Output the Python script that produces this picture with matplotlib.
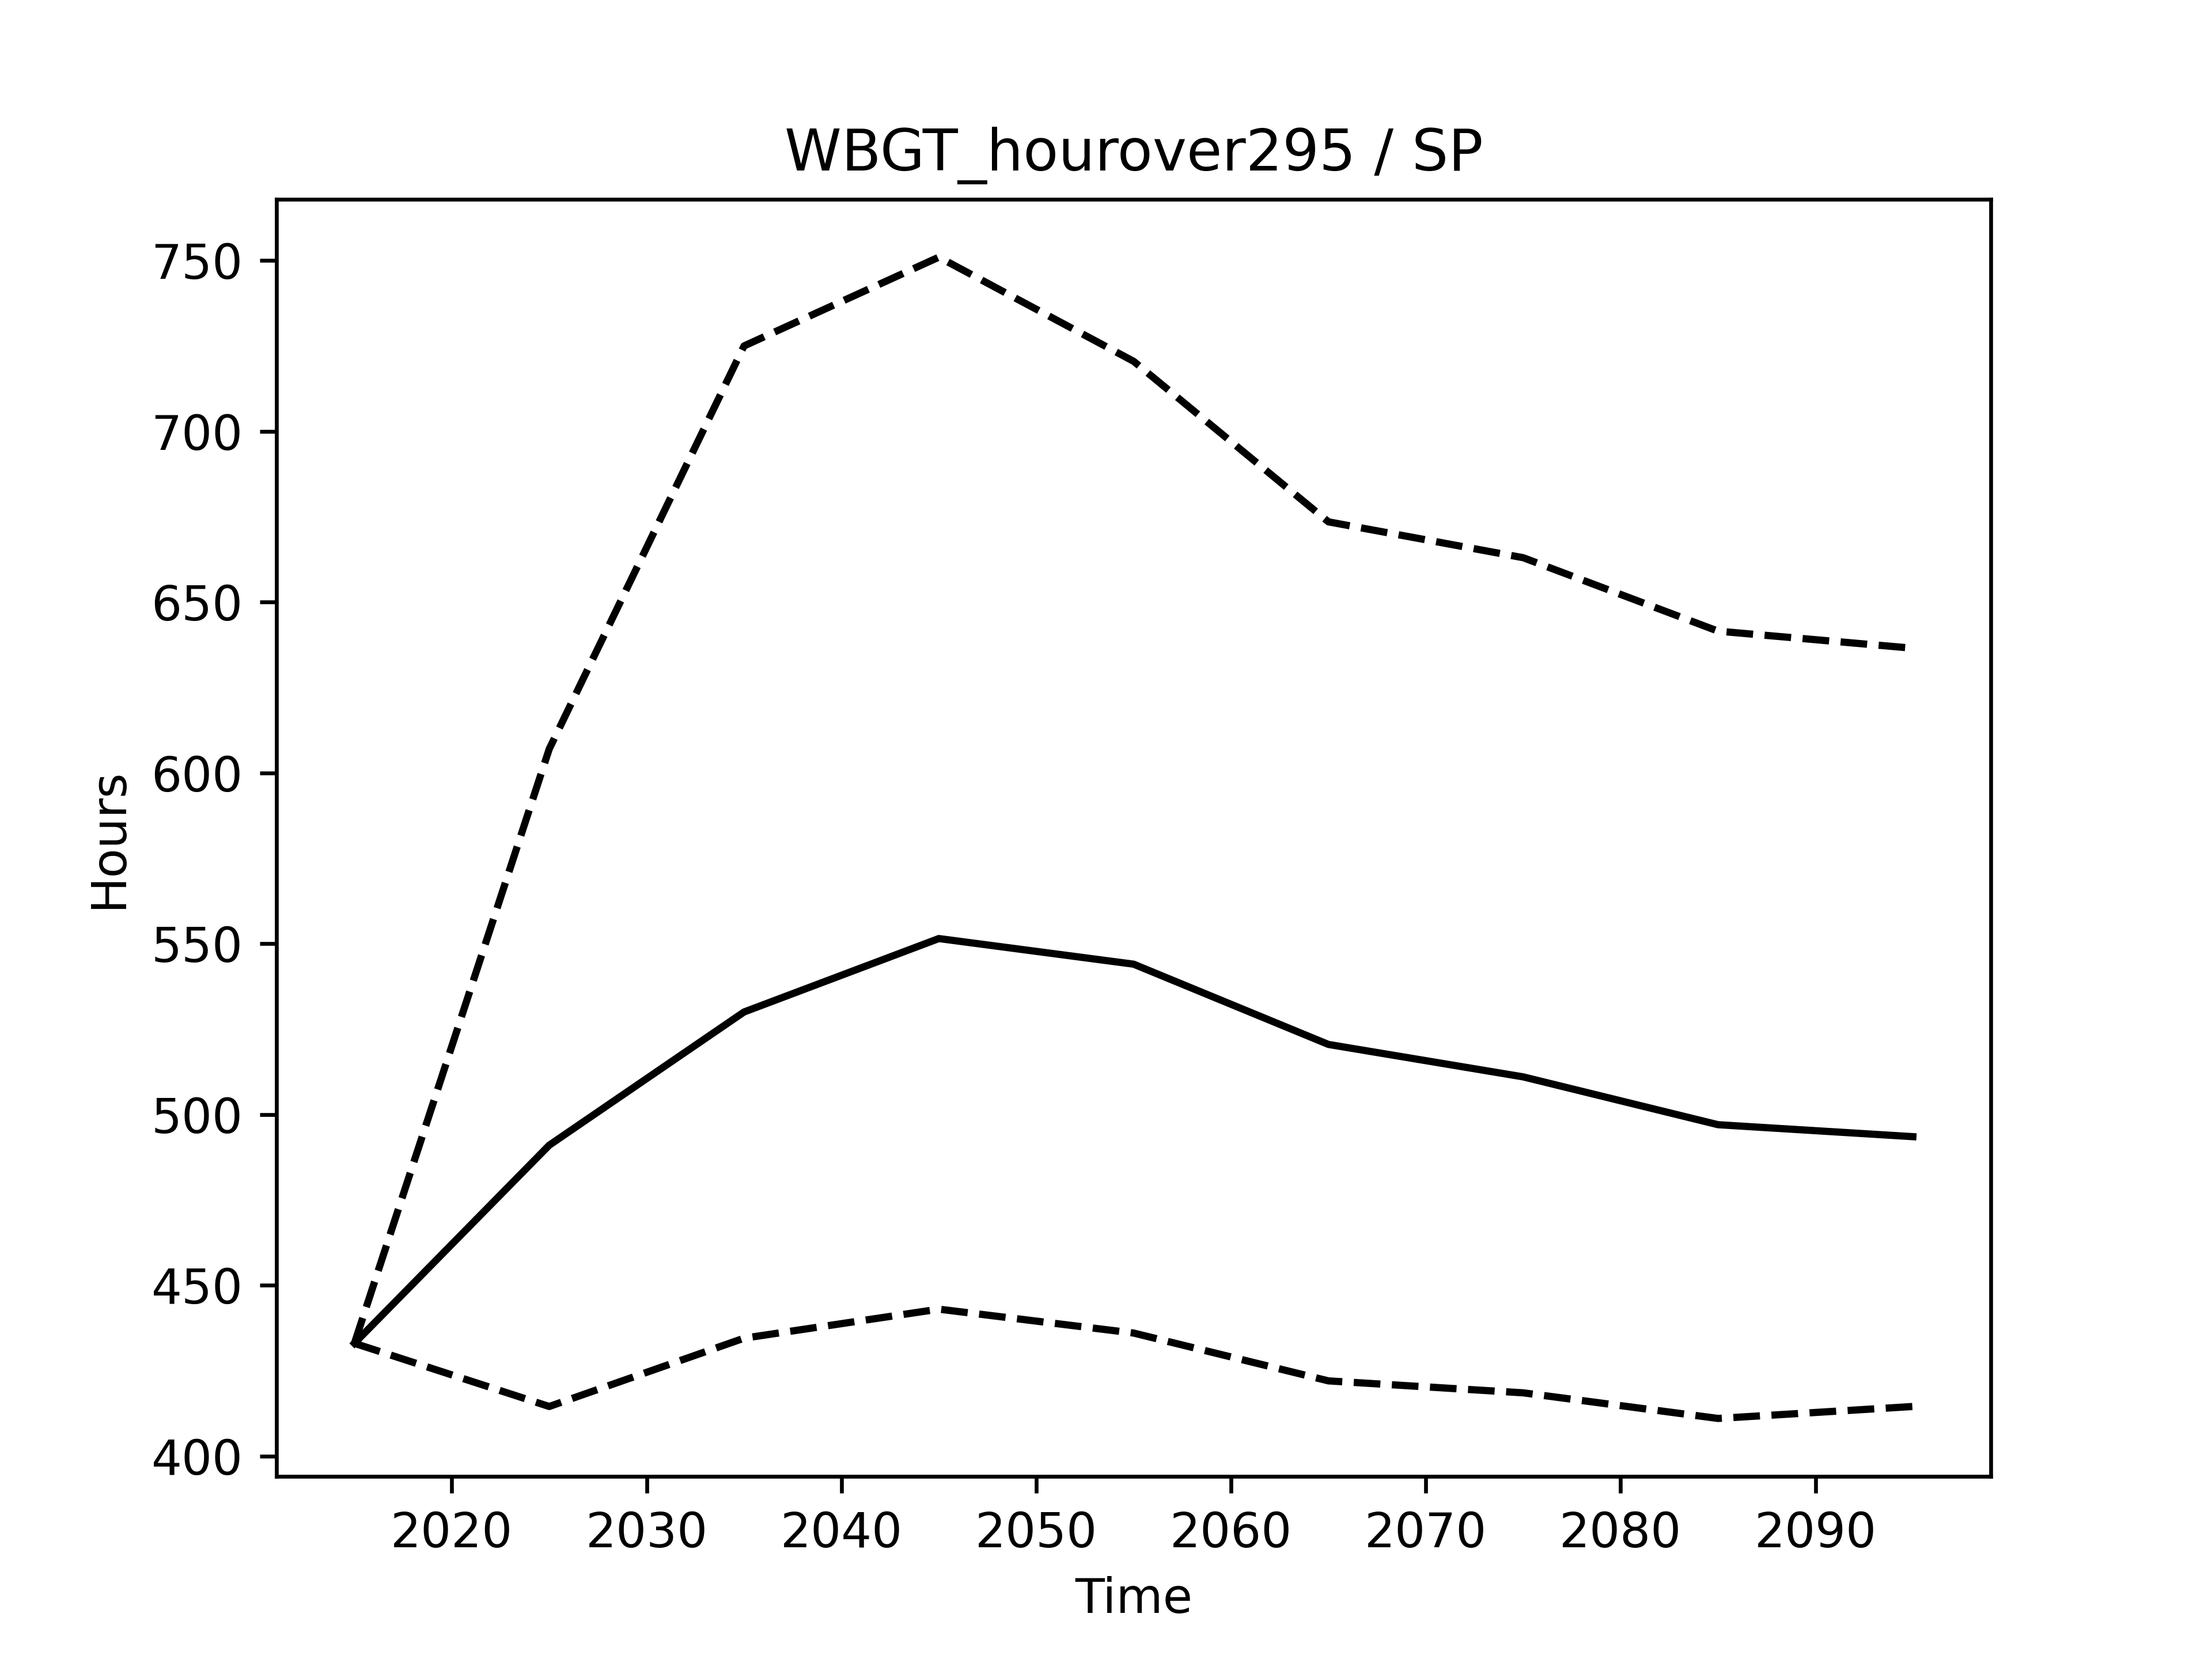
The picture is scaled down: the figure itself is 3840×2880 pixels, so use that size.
import matplotlib
matplotlib.use("Agg")
import matplotlib.pyplot as plt

years = [2015, 2025, 2035, 2045, 2055, 2065, 2075, 2085, 2095]
median = [433, 491, 530, 551.5, 544, 520.5, 511, 497, 493.5]
upper = [433, 607, 725, 751, 720.5, 673.5, 663, 641.5, 636.5]
lower = [433, 414.5, 434.5, 443, 436, 422, 418.5, 411, 414.5]

fig, ax = plt.subplots(figsize=(6.4, 4.8), dpi=600)
ax.plot(years, median, color="black", linestyle="-")
ax.plot(years, upper, color="black", linestyle="--")
ax.plot(years, lower, color="black", linestyle="--")
ax.set_title("WBGT_hourover295 / SP")
ax.set_xlabel("Time")
ax.set_ylabel("Hours")
fig.savefig("out.png", dpi=600)
